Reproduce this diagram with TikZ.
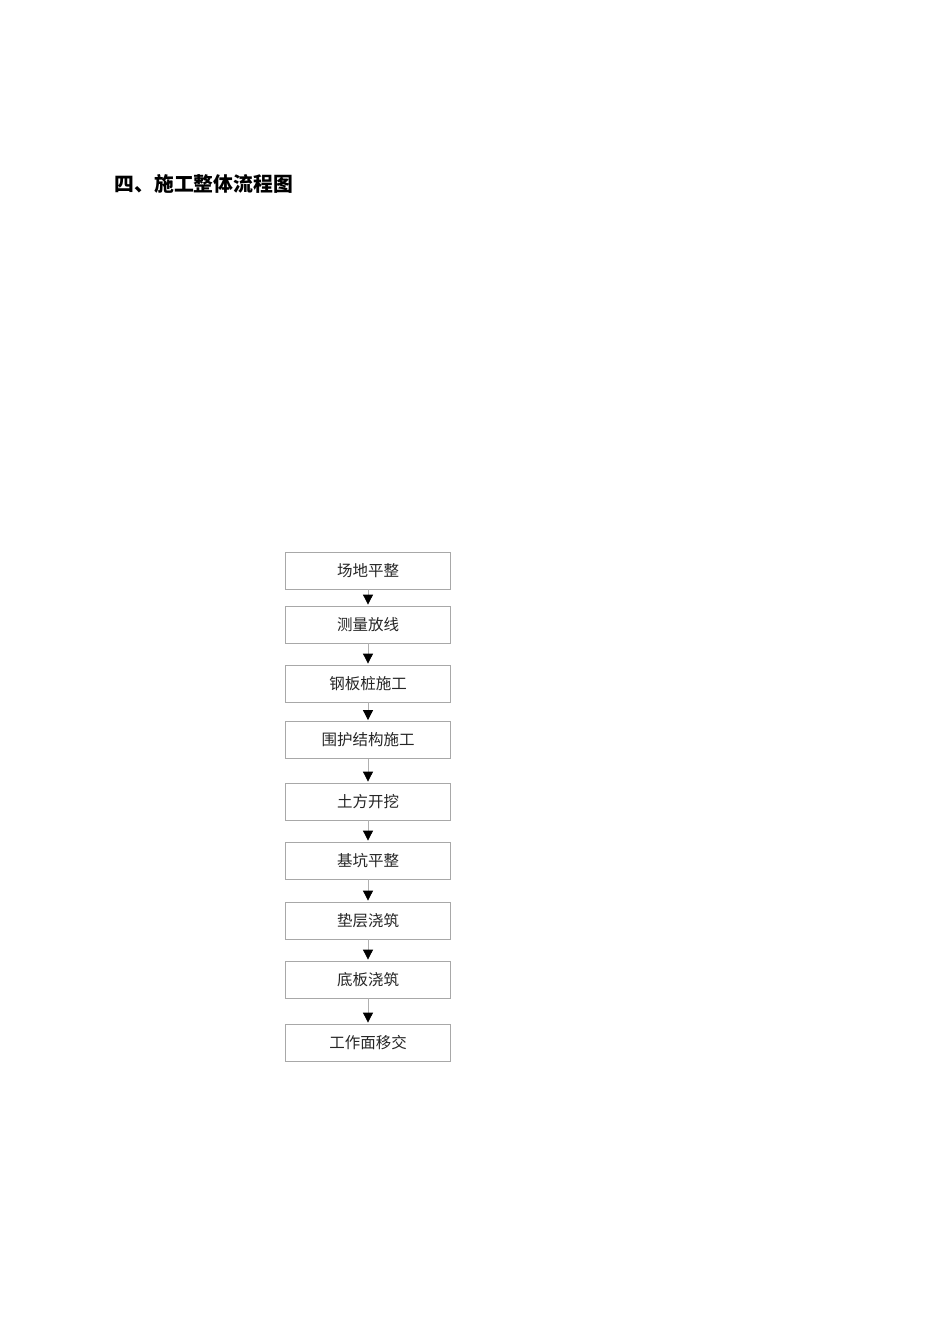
\documentclass[tikz,border=0pt]{standalone}
\usepackage{fontspec}
\setmainfont{Noto Sans CJK SC}
\usetikzlibrary{arrows.meta}
\definecolor{boxline}{HTML}{A8A8A8}
\definecolor{conline}{HTML}{B0B0B0}
\tikzset{
  stepbox/.style={draw=boxline, line width=0.8pt, minimum width=165pt, minimum height=37pt, inner sep=0pt, font=\fontsize{15.5}{16}\selectfont, text=black!85},
  flow/.style={draw=conline, line width=0.8pt, -{Triangle[length=10pt,width=10pt,fill=black,color=black]}, shorten >=1pt}
}
\begin{document}
\begin{tikzpicture}[x=1pt,y=-1pt]
\useasboundingbox (0,0) rectangle (950,1344);
\fill[white] (0,0) rectangle (950,1344);
\node[anchor=west, font=\fontsize{19.8}{20}\selectfont\bfseries, inner sep=0pt] (title) at (114.5,183.5) {四、施工整体流程图};
\node[stepbox] (b1) at (368,570.5) {\raisebox{1.5pt}{场地平整}};
\node[stepbox] (b2) at (368,624.5) {\raisebox{1.5pt}{测量放线}};
\node[stepbox] (b3) at (368,683.5) {\raisebox{1.5pt}{钢板桩施工}};
\node[stepbox] (b4) at (368,740) {\raisebox{1.5pt}{围护结构施工}};
\node[stepbox] (b5) at (368,801.5) {\raisebox{1.5pt}{土方开挖}};
\node[stepbox] (b6) at (368,860.5) {\raisebox{1.5pt}{基坑平整}};
\node[stepbox] (b7) at (368,920.5) {\raisebox{1.5pt}{垫层浇筑}};
\node[stepbox] (b8) at (368,979.5) {\raisebox{1.5pt}{底板浇筑}};
\node[stepbox] (b9) at (368,1042.5) {\raisebox{1.5pt}{工作面移交}};
\foreach \a/\b in {b1/b2,b2/b3,b3/b4,b4/b5,b5/b6,b6/b7,b7/b8,b8/b9}
  \draw[flow] (\a.south) -- (\b.north);
\end{tikzpicture}
\end{document}
